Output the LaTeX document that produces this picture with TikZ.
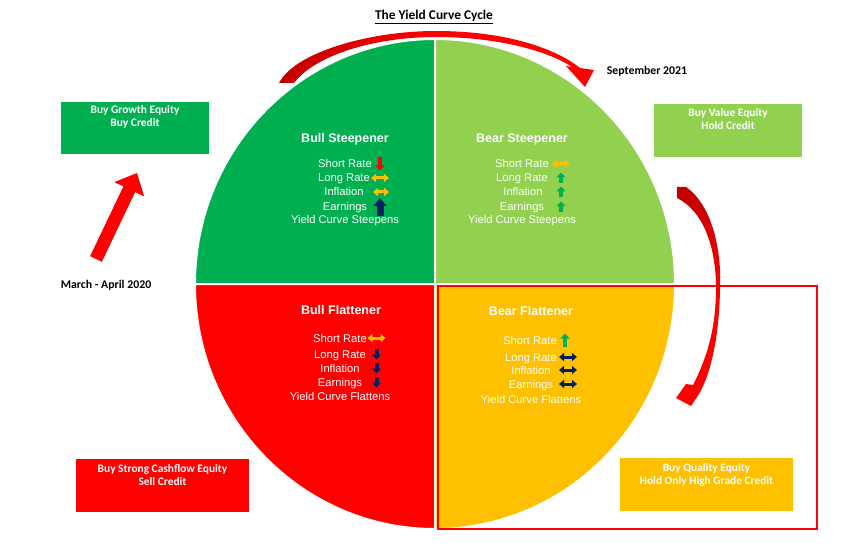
\documentclass[tikz,border=0pt]{standalone}
\usepackage{fontspec}
\setmainfont{Carlito}
\newfontfamily\itemfont{Liberation Sans}
\usetikzlibrary{arrows.meta,positioning}

\definecolor{bullgreen}{HTML}{00B050}
\definecolor{beargreen}{HTML}{92D050}
\definecolor{bullred}{HTML}{FF0000}
\definecolor{bearyellow}{HTML}{FFC000}
\definecolor{navy}{HTML}{002060}
\definecolor{darkarrow}{HTML}{C00000}

\tikzset{
  quad/.style={draw=white,line width=2pt},
  qtitle/.style={text=white,inner sep=0pt,text height=9pt,text depth=0pt,font=\itemfont\fontsize{12.5}{14}\selectfont\bfseries},
  item/.style={text=white,inner sep=0pt,text height=8pt,text depth=0pt,font=\itemfont\fontsize{11.2}{13}\selectfont},
  box/.style={minimum width=148pt,minimum height=52pt,inner sep=0pt},
  widebox/.style={box,minimum width=173pt,minimum height=53pt},
  boxtext/.style={text=white,align=center,inner sep=0pt,font=\fontsize{11.4}{13}\selectfont\bfseries},
  datelbl/.style={inner sep=0pt,font=\fontsize{11.8}{13}\selectfont\bfseries},
  vsmall/.style={line width=4pt,-{Triangle[length=5pt,width=9pt]}},
  vbig/.style={line width=7pt,-{Triangle[length=8pt,width=13pt]}},
  hboth/.style={line width=3pt,{Triangle[length=5pt,width=8pt]}-{Triangle[length=5pt,width=8pt]}}
}

\begin{document}
\begin{tikzpicture}[x=1pt,y=-1pt]
  \fill[white] (0,0) rectangle (849,556);
  \useasboundingbox (0,0) rectangle (849,556);

  % the four quadrants
  \coordinate (ctr) at (435,284);
  \filldraw[quad,fill=bullgreen] (ctr) -- ++(-240,0) arc[start angle=180,end angle=270,x radius=240,y radius=245] -- cycle;
  \filldraw[quad,fill=beargreen] (ctr) -- ++(0,-245) arc[start angle=270,end angle=360,x radius=240,y radius=245] -- cycle;
  \filldraw[quad,fill=bearyellow] (ctr) -- ++(240,0) arc[start angle=0,end angle=90,x radius=240,y radius=245] -- cycle;
  \filldraw[quad,fill=bullred] (ctr) -- ++(0,245) arc[start angle=90,end angle=180,x radius=240,y radius=245] -- cycle;

  \draw[bullred,line width=2pt] (438,286) rectangle (817,529);

  % cycle arrows
  \shade[left color=darkarrow,right color=bullred,middle color=bullred]
    (279,83) .. controls (295,52) and (370,31) .. (436,31) .. controls (505,31) and (555,48) .. (580,68)
    -- (594,70) -- (585,87) -- (566,66) -- (572,67)
    .. controls (550,52) and (500,37) .. (436,37) .. controls (375,37) and (315,55) .. (294,83) -- cycle;
  \shade[top color=darkarrow,bottom color=bullred,middle color=bullred]
    (686,187) .. controls (712,205) and (722,250) .. (720,290) .. controls (719,340) and (710,375) .. (699,394)
    -- (691,406) -- (676,398) -- (686,384) -- (693,385)
    .. controls (706,360) and (716,330) .. (716,288) .. controls (716,250) and (705,212) .. (677,198) -- (677,187) -- cycle;
  \coordinate (tailL) at (96,259);
  \coordinate (tipL) at (137,173);
  \draw[bullred,line width=13pt,-{Triangle[length=18pt,width=32pt]}] (tailL) -- (tipL);

  \node[font=\fontsize{13.4}{15}\selectfont\bfseries] (title) at (434,17) {\underline{The Yield Curve Cycle}};
  \node[datelbl] (sept) at (647,71) {September 2021};
  \node[datelbl] (march) at (106,285) {March - April 2020};

  % bull steepener
  \node[qtitle] (bsTitle) at (345,138) {Bull Steepener};
  \node[item] (bsShort) at (345,164) {Short Rate};
  \node[item] (bsLong) at (344,178) {Long Rate};
  \node[item] (bsInfl) at (344,192) {Inflation};
  \node[item] (bsEarn) at (345,207) {Earnings};
  \node[item] (bsCurve) at (345,220) {Yield Curve Steepens};
  \coordinate (bsCol) at (380,0);
  \draw[vsmall,bullred] ([yshift=6.5pt]bsCol |- bsShort) -- ([yshift=-6.5pt]bsCol |- bsShort);
  \draw[hboth,bearyellow] ([xshift=-9pt]bsCol |- bsLong) -- ([xshift=9pt]bsCol |- bsLong);
  \draw[hboth,bearyellow] ([xshift=-7pt]bsCol |- bsInfl) -- ([xshift=9pt]bsCol |- bsInfl);
  \draw[vbig,navy] ([yshift=-9pt]bsCol |- bsEarn) -- ([yshift=9pt]bsCol |- bsEarn);

  % bear steepener
  \node[qtitle] (brsTitle) at (522,138) {Bear Steepener};
  \node[item] (brsShort) at (522,164) {Short Rate};
  \node[item] (brsLong) at (522,178) {Long Rate};
  \node[item] (brsInfl) at (523,192) {Inflation};
  \node[item] (brsEarn) at (522,207) {Earnings};
  \node[item] (brsCurve) at (522,220) {Yield Curve Steepens};
  \coordinate (brsCol) at (561,0);
  \draw[hboth,bearyellow] ([xshift=-9pt]brsCol |- brsShort) -- ([xshift=9pt]brsCol |- brsShort);
  \draw[vsmall,bullgreen] ([yshift=-5.5pt]brsCol |- brsLong) -- ([yshift=5.5pt]brsCol |- brsLong);
  \draw[vsmall,bullgreen] ([yshift=-5.5pt]brsCol |- brsInfl) -- ([yshift=5.5pt]brsCol |- brsInfl);
  \draw[vsmall,bullgreen] ([yshift=-5.5pt]brsCol |- brsEarn) -- ([yshift=5.5pt]brsCol |- brsEarn);

  % bull flattener
  \node[qtitle] (bfTitle) at (341,310) {Bull Flattener};
  \node[item] (bfShort) at (340,338) {Short Rate};
  \node[item] (bfLong) at (340,354) {Long Rate};
  \node[item] (bfInfl) at (340,368) {Inflation};
  \node[item] (bfEarn) at (340,382) {Earnings};
  \node[item] (bfCurve) at (340,396) {Yield Curve Flattens};
  \coordinate (bfCol) at (376.5,0);
  \draw[hboth,bearyellow] ([xshift=-9pt]bfCol |- bfShort) -- ([xshift=9pt]bfCol |- bfShort);
  \draw[vsmall,navy] ([yshift=5.5pt]bfCol |- bfLong) -- ([yshift=-5.5pt]bfCol |- bfLong);
  \draw[vsmall,navy] ([yshift=5.5pt]bfCol |- bfInfl) -- ([yshift=-5.5pt]bfCol |- bfInfl);
  \draw[vsmall,navy] ([yshift=5.5pt]bfCol |- bfEarn) -- ([yshift=-5.5pt]bfCol |- bfEarn);

  % bear flattener
  \node[qtitle] (brfTitle) at (531,311) {Bear Flattener};
  \node[item] (brfShort) at (530,340) {Short Rate};
  \node[item] (brfLong) at (531,357) {Long Rate};
  \node[item] (brfInfl) at (531,370) {Inflation};
  \node[item] (brfEarn) at (531,384) {Earnings};
  \node[item] (brfCurve) at (531,399) {Yield Curve Flattens};
  \coordinate (brfCol) at (568,0);
  \draw[vsmall,bullgreen] ([xshift=-3pt,yshift=-6.5pt]brfCol |- brfShort) -- ([xshift=-3pt,yshift=6.5pt]brfCol |- brfShort);
  \draw[hboth,navy] ([xshift=-9pt]brfCol |- brfLong) -- ([xshift=9pt]brfCol |- brfLong);
  \draw[hboth,navy] ([xshift=-9pt]brfCol |- brfInfl) -- ([xshift=9pt]brfCol |- brfInfl);
  \draw[hboth,navy] ([xshift=-9pt]brfCol |- brfEarn) -- ([xshift=9pt]brfCol |- brfEarn);

  % action boxes
  \node[box,fill=bullgreen] (growthBox) at (135,128) {};
  \node[boxtext,below=4pt of growthBox.north] (growthTxt) {Buy Growth Equity\\Buy Credit};
  \node[box,fill=beargreen,minimum height=53pt] (valueBox) at (728,130.5) {};
  \node[boxtext,below=5pt of valueBox.north] (valueTxt) {Buy Value Equity\\Hold Credit};
  \node[widebox,fill=bullred] (cashBox) at (162.5,485.5) {};
  \node[boxtext,below=5pt of cashBox.north] (cashTxt) {Buy Strong Cashflow Equity\\Sell Credit};
  \node[widebox,fill=bearyellow] (qualityBox) at (706.5,484.5) {};
  \node[boxtext,below=5pt of qualityBox.north] (qualityTxt) {Buy Quality Equity\\Hold Only High Grade Credit};
\end{tikzpicture}
\end{document}
